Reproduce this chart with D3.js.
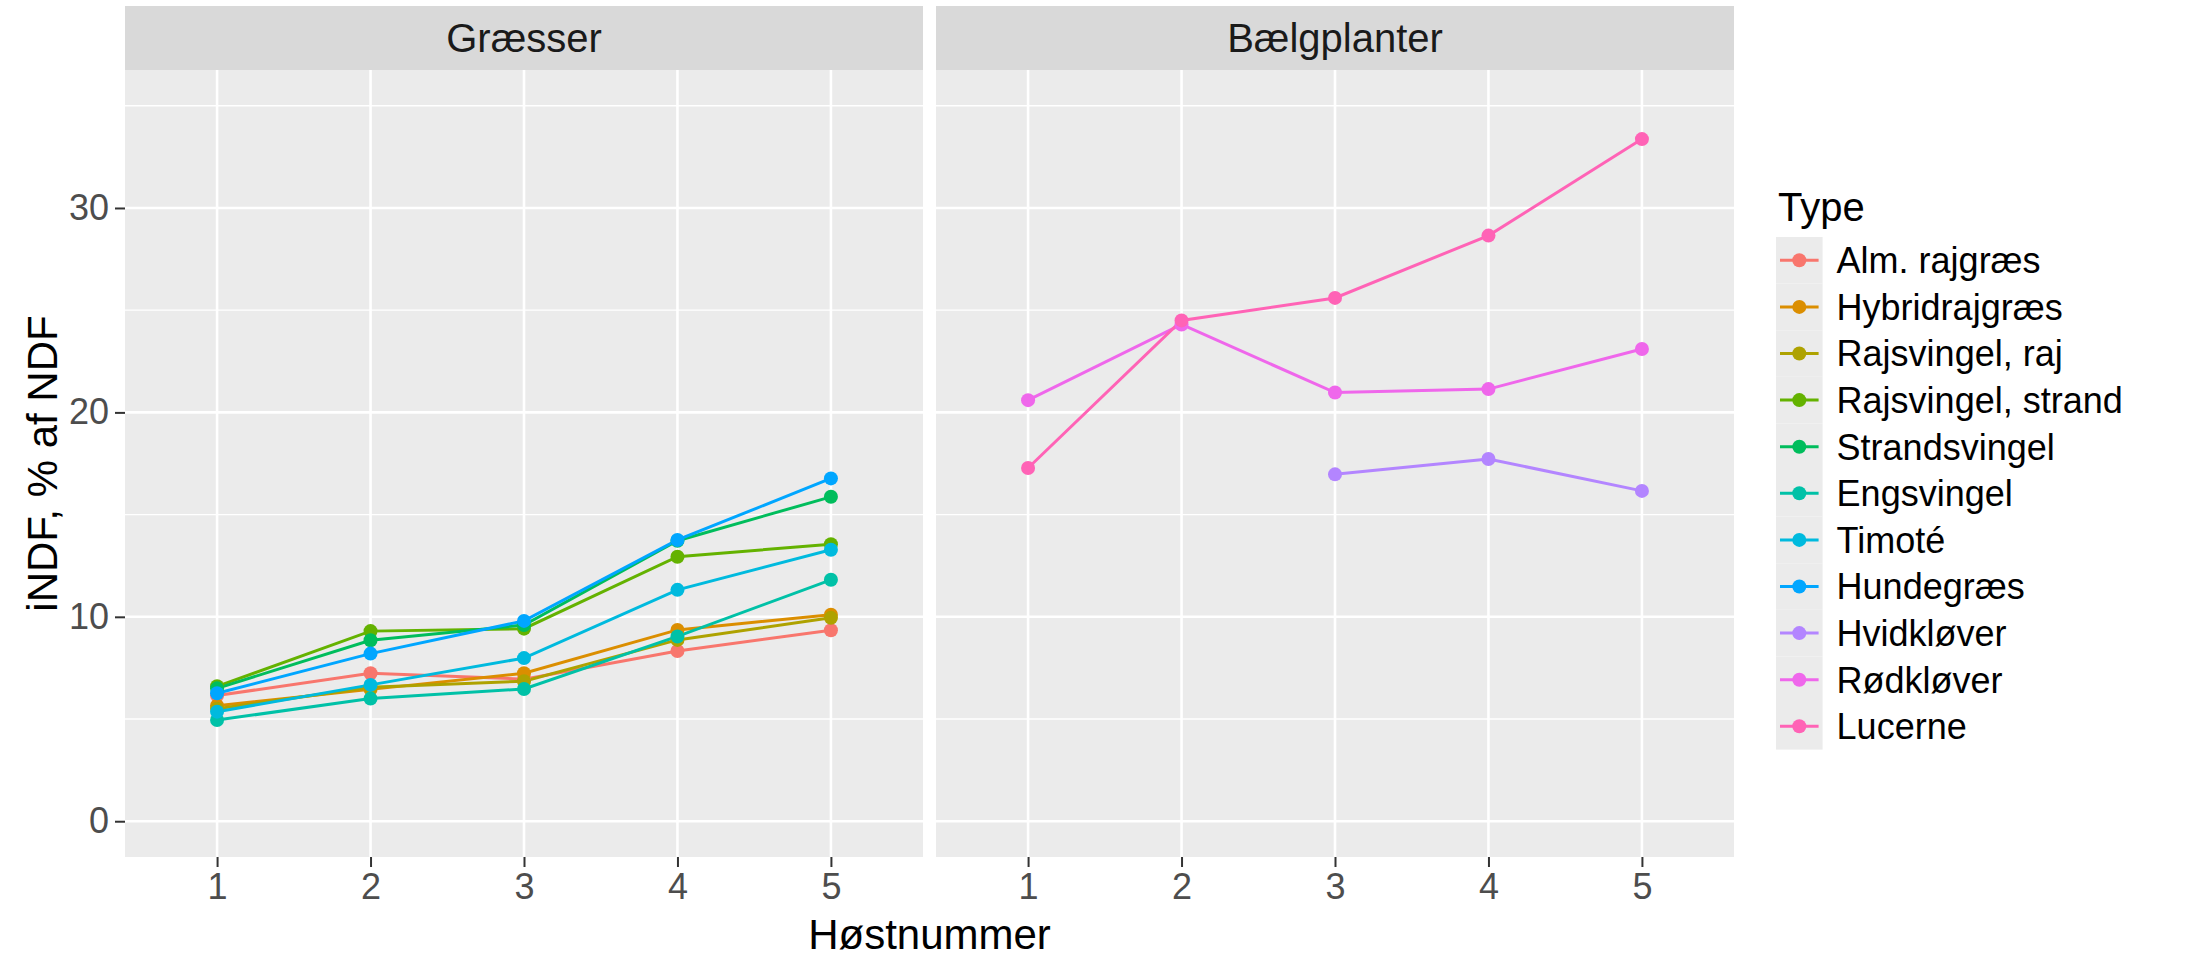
<!DOCTYPE html>
<html>
<head>
<meta charset="utf-8">
<script src="https://cdn.jsdelivr.net/npm/d3@7"></script>
<style>
  body { margin: 0; background: white; }
  text { font-family: "Liberation Sans", Arial, sans-serif; }
</style>
</head>
<body>
<div id="chart"></div>
<script>
//////////////////////////////////////////////////////////////////////////////
// Data

var harvests = [1, 2, 3, 4, 5];
var panels = ["Græsser", "Bælgplanter"];
var yTicks = [0, 10, 20, 30];
var yMinor = [5, 15, 25, 35];

var types = ["Alm. rajgræs", "Hybridrajgræs", "Rajsvingel, raj", "Rajsvingel, strand",
             "Strandsvingel", "Engsvingel", "Timoté", "Hundegræs",
             "Hvidkløver", "Rødkløver", "Lucerne"];
var typePanel = [0, 0, 0, 0, 0, 0, 0, 0, 1, 1, 1];

var almRajgraes      = [6.15, 7.24, 6.95, 8.33, 9.34];
var hybridrajgraes   = [5.65, 6.45, 7.24, 9.36, 10.1];
var rajsvingelRaj    = [5.5, 6.55, 6.85, 8.87, 9.95];
var rajsvingelStrand = [6.6, 9.3, 9.42, 12.94, 13.55];
var strandsvingel    = [6.5, 8.85, 9.6, 13.72, 15.87];
var engsvingel       = [4.95, 6.0, 6.47, 9.04, 11.81];
var timote           = [5.36, 6.67, 7.98, 11.32, 13.28];
var hundegraes       = [6.26, 8.2, 9.8, 13.76, 16.77];
var hvidklover       = [null, null, 16.97, 17.72, 16.16];
var rodklover        = [20.6, 24.3, 20.97, 21.14, 23.1];
var lucerne          = [17.28, 24.5, 25.6, 28.65, 33.37];

var seriesValues = [almRajgraes, hybridrajgraes, rajsvingelRaj, rajsvingelStrand,
                    strandsvingel, engsvingel, timote, hundegraes,
                    hvidklover, rodklover, lucerne];

// ggplot default hue palette for 11 levels
var colors = ["#F8766D", "#DB8E00", "#AEA200", "#64B200", "#00BD5C", "#00C1A7",
              "#00BADE", "#00A6FF", "#B385FF", "#EF67EB", "#FF63B6"];

//////////////////////////////////////////////////////////////////////////////
// Layout

var width = 2193, height = 957;
var panelTop = 70, panelBottom = 857;
var stripTop = 6;
var panelX = [[125, 923], [936, 1734]];
var lineWidth = 3, pointR = 7;

var yScale = d3.scaleLinear().domain([-1.75, 36.75]).range([panelBottom, panelTop]);
var color = d3.scaleOrdinal().domain(types).range(colors);

var svg = d3.select("#chart")
    .append("svg")
    .attr("width", width)
    .attr("height", height);

var series = types.map(function(t, i) {
    return {
        name: t,
        panel: typePanel[i],
        points: harvests.map(function(h, j) { return { x: h, y: seriesValues[i][j] }; })
                        .filter(function(p) { return p.y !== null; })
    };
});

panels.forEach(function(title, pi) {
    var x0 = panelX[pi][0], x1 = panelX[pi][1];
    var xScale = d3.scaleLinear().domain([0.4, 5.6]).range([x0, x1]);
    var g = svg.append("g");

    // strip
    g.append("rect")
        .attr("x", x0).attr("y", stripTop)
        .attr("width", x1 - x0).attr("height", panelTop - stripTop)
        .attr("fill", "#D9D9D9");
    g.append("text")
        .attr("x", (x0 + x1) / 2).attr("y", (stripTop + panelTop) / 2)
        .attr("dy", "0.36em")
        .attr("text-anchor", "middle")
        .attr("font-size", 40)
        .attr("fill", "#1A1A1A")
        .text(title);

    // panel background and grid
    g.append("rect")
        .attr("x", x0).attr("y", panelTop)
        .attr("width", x1 - x0).attr("height", panelBottom - panelTop)
        .attr("fill", "#EBEBEB");

    g.selectAll(".minor")
        .data(yMinor)
        .enter().append("line")
        .attr("x1", x0).attr("x2", x1)
        .attr("y1", function(d) { return yScale(d); })
        .attr("y2", function(d) { return yScale(d); })
        .attr("stroke", "white").attr("stroke-width", 1.3);

    g.selectAll(".majorY")
        .data(yTicks)
        .enter().append("line")
        .attr("x1", x0).attr("x2", x1)
        .attr("y1", function(d) { return yScale(d); })
        .attr("y2", function(d) { return yScale(d); })
        .attr("stroke", "white").attr("stroke-width", 2.6);

    g.selectAll(".majorX")
        .data(harvests)
        .enter().append("line")
        .attr("y1", panelTop).attr("y2", panelBottom)
        .attr("x1", function(d) { return xScale(d); })
        .attr("x2", function(d) { return xScale(d); })
        .attr("stroke", "white").attr("stroke-width", 2.6);

    // x axis
    var xAxis = d3.axisBottom(xScale)
        .tickValues(harvests)
        .tickFormat(d3.format("d"))
        .tickSize(10)
        .tickPadding(6);
    var ax = g.append("g")
        .attr("transform", "translate(0," + panelBottom + ")")
        .call(xAxis);
    ax.select(".domain").remove();
    ax.selectAll("line").attr("stroke", "#333333").attr("stroke-width", 2);
    ax.selectAll("text")
        .attr("font-size", 36)
        .attr("fill", "#4D4D4D")
        .attr("font-family", "Liberation Sans, Arial, sans-serif");

    // y axis only on the first panel
    if (pi === 0) {
        var yAxis = d3.axisLeft(yScale)
            .tickValues(yTicks)
            .tickSize(10)
            .tickPadding(6);
        var ay = g.append("g")
            .attr("transform", "translate(" + x0 + ",0)")
            .call(yAxis);
        ay.select(".domain").remove();
        ay.selectAll("line").attr("stroke", "#333333").attr("stroke-width", 2);
        ay.selectAll("text")
            .attr("font-size", 36)
            .attr("fill", "#4D4D4D")
            .attr("font-family", "Liberation Sans, Arial, sans-serif");
    }

    // lines and points
    var line = d3.line()
        .x(function(d) { return xScale(d.x); })
        .y(function(d) { return yScale(d.y); });

    var mine = series.filter(function(s) { return s.panel === pi; });

    g.selectAll(".series")
        .data(mine)
        .enter().append("path")
        .attr("d", function(s) { return line(s.points); })
        .attr("fill", "none")
        .attr("stroke", function(s) { return color(s.name); })
        .attr("stroke-width", lineWidth);

    mine.forEach(function(s) {
        g.selectAll(null)
            .data(s.points)
            .enter().append("circle")
            .attr("cx", function(d) { return xScale(d.x); })
            .attr("cy", function(d) { return yScale(d.y); })
            .attr("r", pointR)
            .attr("fill", color(s.name));
    });
});

//////////////////////////////////////////////////////////////////////////////
// Axis titles

svg.append("text")
    .attr("x", (panelX[0][0] + panelX[1][1]) / 2)
    .attr("y", 934)
    .attr("dy", "0.36em")
    .attr("text-anchor", "middle")
    .attr("font-size", 42)
    .text("Høstnummer");

svg.append("text")
    .attr("transform", "translate(42," + (panelTop + panelBottom) / 2 + ") rotate(-90)")
    .attr("dy", "0.36em")
    .attr("text-anchor", "middle")
    .attr("font-size", 42)
    .text("iNDF, % af NDF");

//////////////////////////////////////////////////////////////////////////////
// Legend

var legendX = 1776, keySize = 46.6, legendTop = 237;

var legend = svg.append("g");

legend.append("text")
    .attr("x", legendX + 2).attr("y", 207)
    .attr("dy", "0.36em")
    .attr("font-size", 40)
    .text("Type");

var rows = legend.selectAll(".row")
    .data(types)
    .enter().append("g")
    .attr("transform", function(d, i) { return "translate(" + legendX + "," + (legendTop + i * keySize) + ")"; });

rows.append("rect")
    .attr("width", keySize).attr("height", keySize)
    .attr("fill", "#EBEBEB");

rows.append("line")
    .attr("x1", 4).attr("x2", keySize - 4)
    .attr("y1", keySize / 2).attr("y2", keySize / 2)
    .attr("stroke", function(d) { return color(d); })
    .attr("stroke-width", lineWidth);

rows.append("circle")
    .attr("cx", keySize / 2).attr("cy", keySize / 2)
    .attr("r", pointR)
    .attr("fill", function(d) { return color(d); });

rows.append("text")
    .attr("x", keySize + 14).attr("y", keySize / 2)
    .attr("dy", "0.36em")
    .attr("font-size", 36)
    .text(function(d) { return d; });
</script>
</body>
</html>
